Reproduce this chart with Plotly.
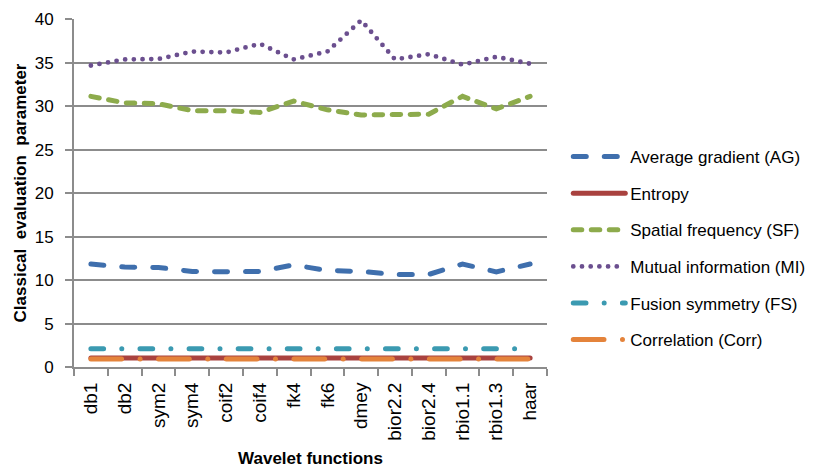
import plotly.graph_objects as go

# Wavelet functions on the x axis
wavelets = ["db1", "db2", "sym2", "sym4", "coif2", "coif4", "fk4", "fk6",
            "dmey", "bior2.2", "bior2.4", "rbio1.1", "rbio1.3", "haar"]

# Classical evaluation parameters per wavelet
avg_gradient = [11.85, 11.5, 11.45, 11.0, 10.95, 11.0, 11.75, 11.1,
                11.0, 10.65, 10.65, 11.85, 10.95, 11.85]
entropy = [1.05] * 14
spatial_freq = [31.15, 30.4, 30.3, 29.5, 29.5, 29.3, 30.6, 29.6,
                29.0, 29.0, 29.1, 31.15, 29.7, 31.15]
mutual_info = [34.7, 35.4, 35.45, 36.3, 36.2, 37.2, 35.4, 36.3,
               39.9, 35.4, 36.0, 34.8, 35.7, 34.9]
fusion_sym = [2.1] * 14
correlation = [0.93] * 14

series = [
    ("Average gradient (AG)", avg_gradient, "#3F6FAD", 5, "13px,18px"),
    ("Entropy", entropy, "#A9423F", 5, "solid"),
    ("Spatial frequency (SF)", spatial_freq, "#8DAB4C", 5, "8.5px,9.5px"),
    ("Mutual information (MI)", mutual_info, "#6B4F8F", 4.8, "0px,8.7px"),
    ("Fusion symmetry (FS)", fusion_sym, "#3B9AB1", 5, "12.7px,18.2px,0px,18.2px"),
    ("Correlation (Corr)", correlation, "#E4833B", 5, "30.7px,18.5px,0px,18.5px"),
]

fig = go.Figure()
for i, (name, vals, color, width, dash) in enumerate(series):
    fig.add_trace(go.Scatter(
        x=wavelets, y=vals, name=name, mode="lines",
        line=dict(color=color, width=width, dash=dash),
        legendgroup=f"g{i}",
    ))

grid = "#8C8C8C"
font = "Liberation Sans, Arial, sans-serif"

fig.update_layout(
    width=830, height=468,
    margin=dict(l=74, r=283, t=19, b=101),
    paper_bgcolor="white", plot_bgcolor="white",
    font=dict(family=font, size=17, color="#000000"),
    showlegend=True,
    legend=dict(
        x=1.045, y=0.655, xanchor="left", yanchor="top",
        font=dict(size=17), tracegroupgap=11.5, itemwidth=52,
        bgcolor="rgba(0,0,0,0)",
    ),
    xaxis=dict(
        type="category", range=[-0.5, 13.5], automargin=False,
        showline=True, linecolor=grid, linewidth=2,
        ticks="outside", tickson="boundaries", ticklen=7, tickcolor=grid, tickwidth=2,
        tickangle=-90, showgrid=False, tickfont=dict(size=19),
        ticklabelstandoff=6,
        title=dict(text="<b>Wavelet functions</b>", font=dict(size=17), standoff=13),
    ),
    yaxis=dict(
        range=[0, 40.05], tickvals=[0, 5, 10, 15, 20, 25, 30, 35, 40],
        automargin=False,
        showline=True, linecolor=grid, linewidth=2,
        ticks="outside", ticklen=7, tickcolor=grid, tickwidth=2,
        showgrid=True, gridcolor=grid, gridwidth=2, zeroline=False,
        ticklabelstandoff=8,
        title=dict(text="<b>Classical  evaluation  parameter</b>", font=dict(size=17), standoff=4),
    ),
)

round_caps = (
    "document.querySelectorAll('.scatterlayer path.js-line, .legend path.js-line')"
    ".forEach(function(p){p.style.strokeLinecap='round';});"
)
fig.write_html("out.html", post_script=round_caps)
